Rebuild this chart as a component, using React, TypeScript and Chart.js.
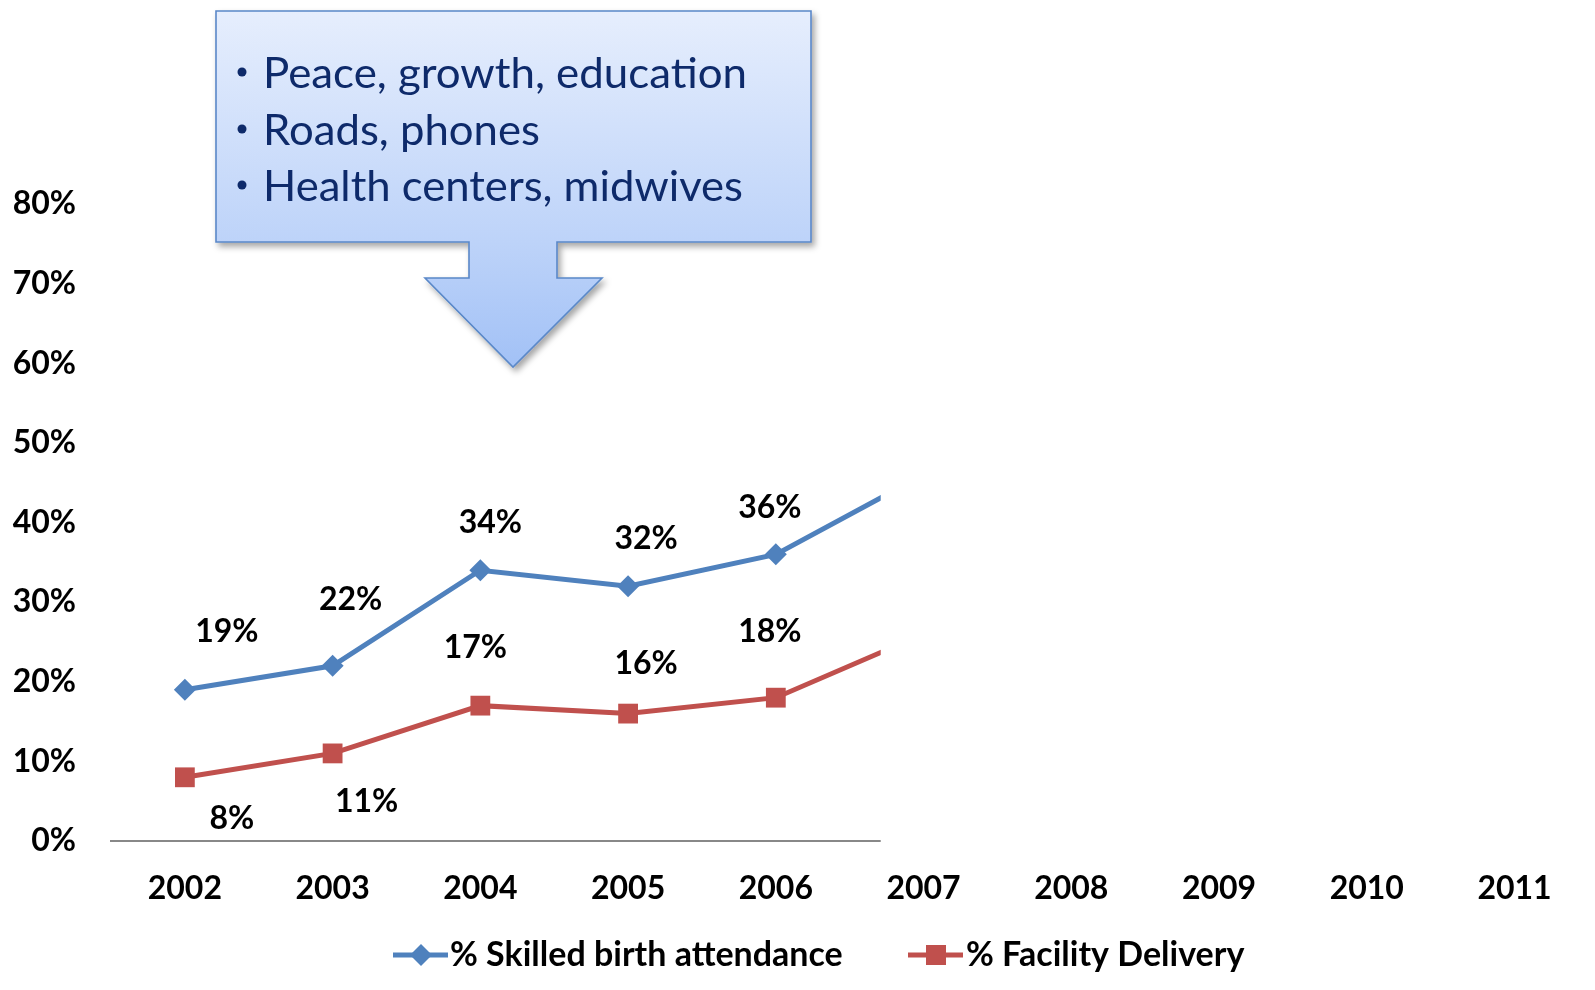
import React, { useEffect, useRef } from "react";
import { Chart, registerables } from "chart.js";

Chart.register(...registerables);

// ---------- data ----------
const YEARS = [2002, 2003, 2004, 2005, 2006, 2007, 2008, 2009, 2010, 2011];
const SKILLED = [0.19, 0.22, 0.34, 0.32, 0.36, 0.46, null, null, null, null];
const FACILITY = [0.08, 0.11, 0.17, 0.16, 0.18, 0.26, null, null, null, null];
const Y_TICKS = [0, 0.1, 0.2, 0.3, 0.4, 0.5, 0.6, 0.7, 0.8];
const SERIES_NAMES = ["% Skilled birth attendance", "% Facility Delivery"];
const CALLOUT_LINES = ["Peace, growth, education", "Roads, phones", "Health centers, midwives"];

// ---------- style / layout ----------
const BLUE = "#4F81BD";
const RED = "#C0504D";
const FONT = "Lato";
const W = 1595;
const H = 990;
const REVEAL_UNTIL = 2006.71; // the part of the plot shown so far (slide build)
const LABEL_OFFSETS = [
  [[42, -58], [18, -66], [10, -48], [18, -48], [-6, -47], [0, -50]],
  [[47, 41], [34, 48], [-5, -58], [18, -50], [-6, -66], [0, -50]],
];
const LEGEND_ITEMS = [
  { lineX: 393, textX: 450, marker: "diamond" },
  { lineX: 908, textX: 966, marker: "square" },
];
const LEGEND_Y = 955;
const CALLOUT_TEXT = [
  { y: 88, len: 484 },
  { y: 145, len: 277 },
  { y: 201, len: 480 },
];

const toXY = (arr: (number | null)[]) => YEARS.map((x, i) => ({ x, y: arr[i] }));

const overlayPlugin = {
  id: "overlay",
  afterDatasetsDraw(chart: any) {
    const ctx = chart.ctx as CanvasRenderingContext2D;
    ctx.save();
    ctx.font = `bold 32px ${FONT}`;
    ctx.fillStyle = "#000";
    ctx.textAlign = "center";
    ctx.textBaseline = "middle";
    chart.data.datasets.forEach((ds: any, di: number) => {
      const meta = chart.getDatasetMeta(di);
      meta.data.forEach((pt: any, i: number) => {
        const v = ds.data[i].y;
        if (v == null) return;
        const off = (LABEL_OFFSETS[di] && LABEL_OFFSETS[di][i]) || [0, -50];
        ctx.fillText(Math.round(v * 100) + "%", pt.x + off[0], pt.y + off[1]);
      });
    });
    // white cover: the rest of the plot is not revealed yet
    const cut = chart.scales.x.getPixelForValue(REVEAL_UNTIL);
    ctx.fillStyle = "#fff";
    ctx.fillRect(cut, 0, chart.width - cut, chart.chartArea.bottom + 4);
    ctx.restore();
  },
  afterDraw(chart: any) {
    const ctx = chart.ctx as CanvasRenderingContext2D;
    ctx.save();
    chart.data.datasets.forEach((ds: any, di: number) => {
      const it = LEGEND_ITEMS[di];
      const color = ds.borderColor;
      ctx.strokeStyle = color;
      ctx.lineWidth = 5;
      ctx.beginPath();
      ctx.moveTo(it.lineX, LEGEND_Y);
      ctx.lineTo(it.lineX + 55, LEGEND_Y);
      ctx.stroke();
      const cx = it.lineX + 28;
      ctx.fillStyle = color;
      if (it.marker === "diamond") {
        ctx.beginPath();
        ctx.moveTo(cx, LEGEND_Y - 11);
        ctx.lineTo(cx + 11, LEGEND_Y);
        ctx.lineTo(cx, LEGEND_Y + 11);
        ctx.lineTo(cx - 11, LEGEND_Y);
        ctx.closePath();
        ctx.fill();
      } else {
        ctx.fillRect(cx - 10, LEGEND_Y - 10, 20, 20);
      }
      ctx.fillStyle = "#000";
      ctx.font = `bold 34px ${FONT}`;
      ctx.textAlign = "left";
      ctx.textBaseline = "middle";
      ctx.fillText(ds.label, it.textX, LEGEND_Y);
    });
    ctx.restore();
  },
};

export default function App() {
  const canvasRef = useRef<HTMLCanvasElement | null>(null);

  useEffect(() => {
    document.body.style.margin = "0";
    document.body.style.overflow = "hidden";
    const canvas = canvasRef.current;
    if (!canvas) return;
    const chart = new Chart(canvas, {
      type: "line",
      data: {
        datasets: [
          {
            label: SERIES_NAMES[0],
            data: toXY(SKILLED) as any,
            borderColor: BLUE,
            backgroundColor: BLUE,
            borderWidth: 5,
            pointStyle: "rectRot",
            pointRadius: 11,
            pointHoverRadius: 11,
            pointBorderWidth: 0,
            tension: 0,
            spanGaps: false,
          },
          {
            label: SERIES_NAMES[1],
            data: toXY(FACILITY) as any,
            borderColor: RED,
            backgroundColor: RED,
            borderWidth: 5,
            pointStyle: "rect",
            pointRadius: 14,
            pointHoverRadius: 14,
            pointBorderWidth: 0,
            tension: 0,
            spanGaps: false,
          },
        ],
      },
      options: {
        animation: false,
        responsive: false,
        devicePixelRatio: 1,
        events: [],
        layout: { padding: { top: 204, left: 0, right: 0, bottom: 0 } },
        plugins: {
          legend: { display: false },
          tooltip: { enabled: false },
          title: { display: false },
        },
        scales: {
          x: {
            type: "linear",
            min: 2001.5,
            max: 2011.45,
            grid: { display: false, drawTicks: false },
            border: { display: true, color: "#888888", width: 2 },
            afterBuildTicks: (s: any) => {
              s.ticks = YEARS.map((v) => ({ value: v }));
            },
            afterFit: (s: any) => {
              s.height = H - 841;
            },
            ticks: {
              autoSkip: false,
              maxRotation: 0,
              padding: 28,
              color: "#000",
              font: { family: FONT, size: 32, weight: "bold" },
              callback: (v: any) => String(v),
            },
          },
          y: {
            min: 0,
            max: 0.8,
            grid: { display: false, drawTicks: false },
            border: { display: false },
            afterBuildTicks: (s: any) => {
              s.ticks = Y_TICKS.map((v) => ({ value: v }));
            },
            afterFit: (s: any) => {
              s.width = 111;
            },
            ticks: {
              padding: 35,
              color: "#000",
              font: { family: FONT, size: 32, weight: "bold" },
              callback: (v: any) => Math.round(Number(v) * 100) + "%",
            },
          },
        },
      },
      plugins: [overlayPlugin],
    });
    return () => chart.destroy();
  }, []);

  return (
    <div style={{ position: "relative", width: W, height: H, overflow: "hidden", background: "#fff" }}>
      <canvas ref={canvasRef} width={W} height={H} style={{ position: "absolute", left: 0, top: 0, width: W, height: H }} />
      <svg
        width={W}
        height={H}
        style={{ position: "absolute", left: 0, top: 0, pointerEvents: "none" }}
      >
        <defs>
          <linearGradient id="calloutFill" x1="0" y1="11" x2="0" y2="367" gradientUnits="userSpaceOnUse">
            <stop offset="0" stopColor="#E6EEFD" />
            <stop offset="0.65" stopColor="#BDD3F9" />
            <stop offset="1" stopColor="#A2C1F6" />
          </linearGradient>
          <filter id="shadow" x="-10%" y="-10%" width="130%" height="130%">
            <feDropShadow dx="3" dy="4" stdDeviation="3" floodColor="#000" floodOpacity="0.35" />
          </filter>
        </defs>
        <path
          d="M216,11 H811 V242 H557 V278 H602 L513,367 L425,278 H469 V242 H216 Z"
          fill="url(#calloutFill)"
          stroke="#5A88C8"
          strokeWidth={1.6}
          filter="url(#shadow)"
        />
        {CALLOUT_LINES.map((line, i) => (
          <g key={i}>
            <circle cx={242} cy={CALLOUT_TEXT[i].y - 16} r={4.5} fill="#0E2A6A" />
            <text
              x={263}
              y={CALLOUT_TEXT[i].y}
              fontFamily={FONT}
              fontSize={42}
              fill="#0E2A6A"
              textLength={CALLOUT_TEXT[i].len}
              lengthAdjust="spacingAndGlyphs"
            >
              {line}
            </text>
          </g>
        ))}
      </svg>
    </div>
  );
}
